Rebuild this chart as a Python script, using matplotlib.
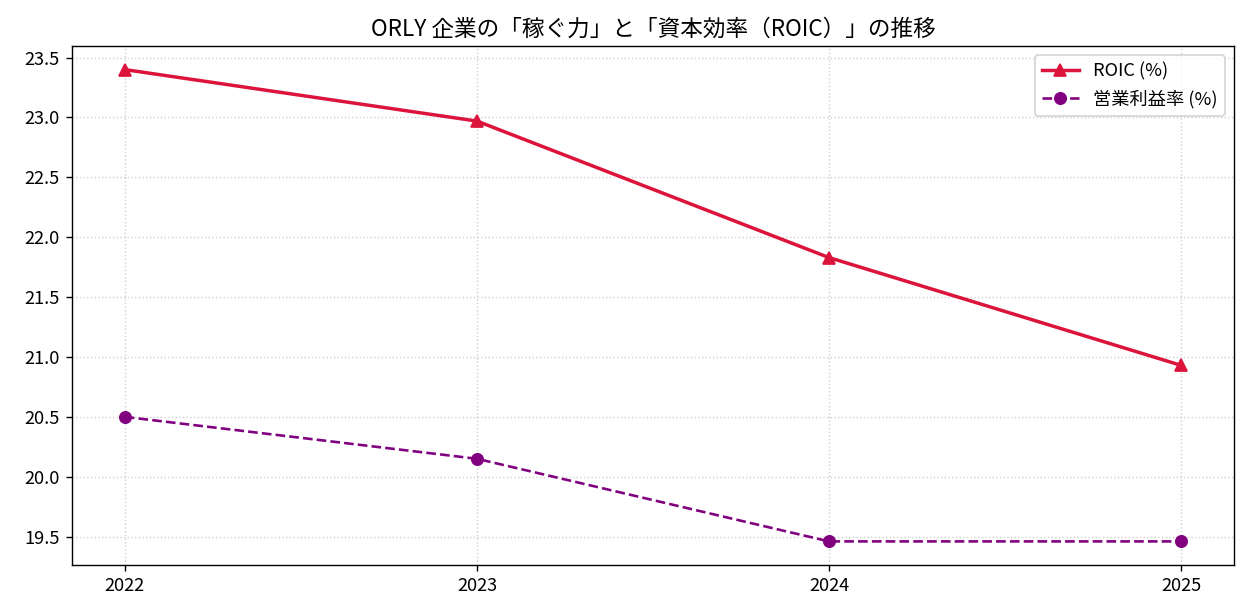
import matplotlib
matplotlib.use("Agg")
import matplotlib.pyplot as plt

plt.rcParams['font.family'] = ['Noto Sans CJK JP', 'DejaVu Sans']

years = ['2022', '2023', '2024', '2025']
roic = [23.40, 22.97, 21.83, 20.93]
op_margin = [20.50, 20.15, 19.46, 19.46]

fig, ax = plt.subplots(figsize=(1249 / 125, 616 / 125), dpi=125)

x = range(len(years))
ax.plot(x, roic, marker='^', color='crimson', linewidth=2, markersize=6.5, label='ROIC (%)')
ax.plot(x, op_margin, marker='o', linestyle='--', color='purple', linewidth=1.5, markersize=6.5,
        label='営業利益率 (%)')

ax.set_xticks(list(x))
ax.set_xticklabels(years)
ax.tick_params(labelsize=10.5)
ax.set_title('ORLY 企業の「稼ぐ力」と「資本効率（ROIC）」の推移', fontsize=13)
ax.grid(True, linestyle=':', alpha=0.6)
ax.legend(loc='upper right', fontsize=10.5)

plt.subplots_adjust(left=72 / 1249, right=1234 / 1249, top=1 - 46 / 616, bottom=1 - 565 / 616)
plt.savefig('out.png', dpi=125)
